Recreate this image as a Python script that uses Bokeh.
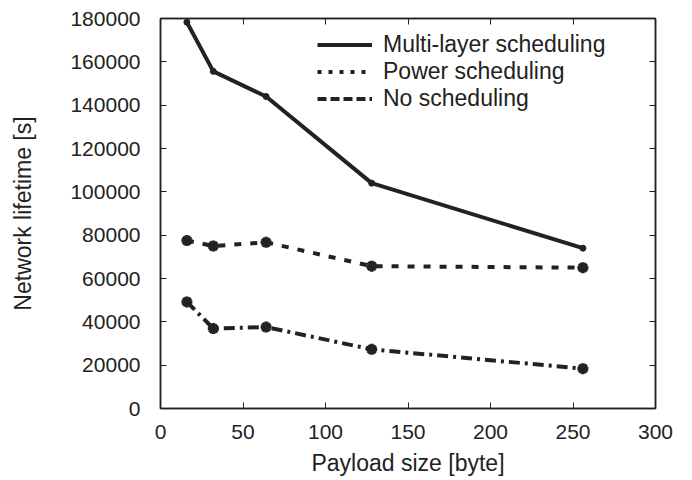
from bokeh.plotting import figure
from bokeh.models import (Range1d, LinearAxis, SingleIntervalTicker, Legend, LegendItem,
                          BasicTickFormatter, CustomJSTickFormatter)
from bokeh.embed import file_html
from bokeh.resources import INLINE

# ---- data ----
payload = [16, 32, 64, 128, 256]
multi_layer = [178300, 155600, 144000, 104000, 74000]
power_sched = [77500, 75000, 76700, 65700, 65000]
no_sched = [49200, 36900, 37600, 27300, 18400]
series_names = ["Multi-layer scheduling", "Power scheduling", "No scheduling"]
x_label = "Payload size [byte]"
y_label = "Network lifetime [s]"

FONT = "Liberation Sans"
INK = "#222222"
NAN = float("nan")

p = figure(frame_width=495, frame_height=390, output_backend="svg", toolbar_location=None,
           x_range=Range1d(0, 300), y_range=Range1d(0, 180000),
           min_border_left=160, min_border_right=20, min_border_top=18, min_border_bottom=64)
p.background_fill_color = "white"
p.border_fill_color = "white"
p.grid.grid_line_color = None
p.outline_line_color = INK
p.outline_line_width = 1.5

p.xaxis.ticker = SingleIntervalTicker(interval=50)
p.yaxis.ticker = SingleIntervalTicker(interval=20000)
p.yaxis.formatter = BasicTickFormatter(use_scientific=False)

for ax in (p.xaxis[0], p.yaxis[0]):
    ax.major_tick_in = 6
    ax.major_tick_out = 0
    ax.minor_tick_line_color = None
    ax.axis_line_color = INK
    ax.axis_line_width = 1.5
    ax.major_tick_line_color = INK
    ax.major_tick_line_width = 1
    ax.major_label_text_font = FONT
    ax.major_label_text_font_size = "21px"
    ax.major_label_text_color = INK
    ax.axis_label_text_font = FONT
    ax.axis_label_text_font_size = "23px"
    ax.axis_label_text_font_style = "normal"
    ax.axis_label_text_color = INK

p.xaxis.axis_label = x_label
p.yaxis.axis_label = y_label
p.xaxis.major_label_standoff = 12
p.yaxis.major_label_standoff = 16
p.xaxis.axis_label_standoff = 8
p.yaxis.axis_label_standoff = 31

# mirrored axes (ticks only)
top = LinearAxis(ticker=SingleIntervalTicker(interval=50))
right = LinearAxis(ticker=SingleIntervalTicker(interval=20000))
for ax in (top, right):
    ax.major_tick_in = 6
    ax.major_tick_out = 0
    ax.minor_tick_line_color = None
    ax.axis_line_color = INK
    ax.axis_line_width = 1.5
    ax.major_tick_line_color = INK
    ax.formatter = CustomJSTickFormatter(code="return ''")
    ax.major_label_text_font_size = "1px"
    ax.major_label_standoff = 0
p.add_layout(top, "above")
p.add_layout(right, "right")

# ---- data lines ----
p.line(payload, multi_layer, line_color=INK, line_width=4)
p.scatter(payload, multi_layer, marker="circle", size=6, fill_color=INK, line_color=INK)

p.line(payload, power_sched, line_color=INK, line_width=4, line_dash="7 9")
p.scatter(payload, power_sched, marker="asterisk", size=11, line_color=INK, line_width=3.5)

p.line(payload, no_sched, line_color=INK, line_width=4, line_dash="11 5 3 5")
p.scatter(payload, no_sched, marker="asterisk", size=11, line_color=INK, line_width=3.5)

# ---- legend (own key styles; NaN so nothing is drawn in the plot) ----
lg1 = p.line([NAN], [NAN], line_color=INK, line_width=4)
lg2 = p.line([NAN], [NAN], line_color=INK, line_width=4, line_dash="4 7")
lg3 = p.line([NAN], [NAN], line_color=INK, line_width=4, line_dash="9 4")
legend = Legend(items=[LegendItem(label=series_names[0], renderers=[lg1]),
                       LegendItem(label=series_names[1], renderers=[lg2]),
                       LegendItem(label=series_names[2], renderers=[lg3])],
                location=(157, 296))
legend.border_line_color = None
legend.background_fill_alpha = 0
legend.padding = 0
legend.margin = 0
legend.spacing = 0
legend.glyph_width = 55
legend.glyph_height = 27
legend.label_height = 27
legend.label_standoff = 11
legend.label_text_font = FONT
legend.label_text_font_size = "23px"
legend.label_text_color = INK
p.add_layout(legend, "center")

open("out.html", "w").write(file_html(p, INLINE))
